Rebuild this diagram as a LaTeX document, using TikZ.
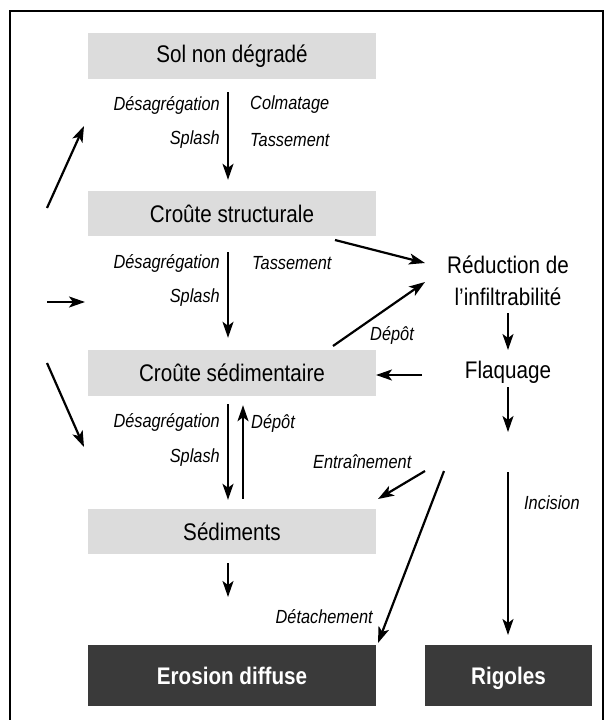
\documentclass[tikz,border=0pt]{standalone}
\usepackage{fontspec}
\setmainfont[FakeStretch=0.86]{Liberation Sans}
\usetikzlibrary{arrows.meta}
\definecolor{boxgray}{HTML}{DCDCDC}
\definecolor{boxdark}{HTML}{3A3A3A}
\tikzset{
  lightbox/.style={fill=boxgray, draw=none, minimum width=288pt, minimum height=46pt, inner sep=0pt, font=\fontsize{24}{28}\selectfont},
  darkbox/.style={fill=boxdark, draw=none, minimum height=61pt, inner sep=0pt, text=white, font=\fontsize{24}{28}\selectfont\bfseries},
  plain/.style={inner sep=0pt, font=\fontsize{24}{28}\selectfont},
  lbl/.style={inner sep=0pt, font=\fontsize{19}{22}\selectfont\itshape},
  arr/.style={line width=2.2pt, -{Stealth[length=16pt,width=11pt,inset=4pt]}},
}
\begin{document}
\begin{tikzpicture}[x=1pt,y=-1pt]
\useasboundingbox (0,0) rectangle (605,720);
% frame
\draw[line width=1.2pt] (10,720) -- (10,11) -- (603,11) -- (603,720);
% main boxes
\node[lightbox] (sol) at (232,56) {Sol non dégradé};
\node[lightbox, minimum height=45pt] (cs) at (232,213.5) {Croûte structurale};
\node[lightbox] (csed) at (232,373) {Croûte sédimentaire};
\node[lightbox, minimum height=45pt] (sed) at (232,531.5) {Sédiments};
\node[darkbox, minimum width=288pt] (ero) at (232,675.5) {Erosion diffuse};
\node[darkbox, minimum width=167pt, text depth=0pt] (rig) at (508.5,675.5) {Rigoles};
\node[plain, align=center, font=\fontsize{24}{32}\selectfont] (red) at (508,281) {Réduction de\\l’infiltrabilité};
\node[plain] (flq) at (508,372) {Flaquage};
% coordinates for free ends
\coordinate (l1s) at (47,208); \coordinate (l1e) at (84,126);
\coordinate (l2s) at (47,302); \coordinate (l2e) at (85,302);
\coordinate (l3s) at (47,363); \coordinate (l3e) at (84,447);
\coordinate (ses) at (228,563); \coordinate (see) at (228,597);
\coordinate (cr1) at (335,240); \coordinate (cr2) at (425,263);
\coordinate (dp1) at (333,346); \coordinate (dp2) at (425,282);
\coordinate (fc1) at (422,375); \coordinate (fc2) at (376,375);
\coordinate (rf1) at (508,313); \coordinate (rf2) at (508,350);
\coordinate (fd1) at (508,387); \coordinate (fd2) at (508,432);
\coordinate (in1) at (508,472); \coordinate (in2) at (508,635);
\coordinate (en1) at (425,471); \coordinate (en2) at (378,499);
\coordinate (de1) at (444,471); \coordinate (de2) at (378,643);
% vertical arrows between boxes
\draw[arr] ([xshift=-4pt,yshift=-13pt]sol.south) -- ([xshift=-4pt,yshift=11pt]cs.north);
\draw[arr] ([xshift=-4pt,yshift=-16pt]cs.south) -- ([xshift=-4pt,yshift=12pt]csed.north);
\draw[arr] ([xshift=-4pt,yshift=-8pt]csed.south) -- ([xshift=-4pt,yshift=9pt]sed.north);
\draw[arr] ([xshift=11pt,yshift=10pt]sed.north) -- ([xshift=11pt,yshift=-9pt]csed.south);
\draw[arr] (ses) -- (see);
% left arrows
\draw[arr] (l1s) -- (l1e);
\draw[arr] (l2s) -- (l2e);
\draw[arr] (l3s) -- (l3e);
% right side
\draw[arr] (cr1) -- (cr2);
\draw[arr] (dp1) -- (dp2);
\draw[arr] (fc1) -- (fc2);
\draw[arr] (rf1) -- (rf2);
\draw[arr] (fd1) -- (fd2);
\draw[arr] (in1) -- (in2);
\draw[arr] (en1) -- (en2);
\draw[arr] (de1) -- (de2);
% labels
\node[lbl, anchor=east] (t1) at (220,105) {Désagrégation};
\node[lbl, anchor=east] (t2) at (220,140) {Splash};
\node[lbl, anchor=west] (t3) at (250,105) {Colmatage};
\node[lbl, anchor=west] (t4) at (250,140) {Tassement};
\node[lbl, anchor=east] (t5) at (220,263) {Désagrégation};
\node[lbl, anchor=east] (t6) at (220,298) {Splash};
\node[lbl, anchor=west] (t7) at (252,263) {Tassement};
\node[lbl, anchor=east] (t8) at (220,422) {Désagrégation};
\node[lbl, anchor=east] (t9) at (220,458) {Splash};
\node[lbl, anchor=west] (t10) at (251,423) {Dépôt};
\node[lbl] (t11) at (392,335) {Dépôt};
\node[lbl, anchor=west] (t12) at (313,462) {Entraînement};
\node[lbl, anchor=east] (t13) at (373,617) {Détachement};
\node[lbl, anchor=west] (t14) at (524,503) {Incision};
\end{tikzpicture}
\end{document}
